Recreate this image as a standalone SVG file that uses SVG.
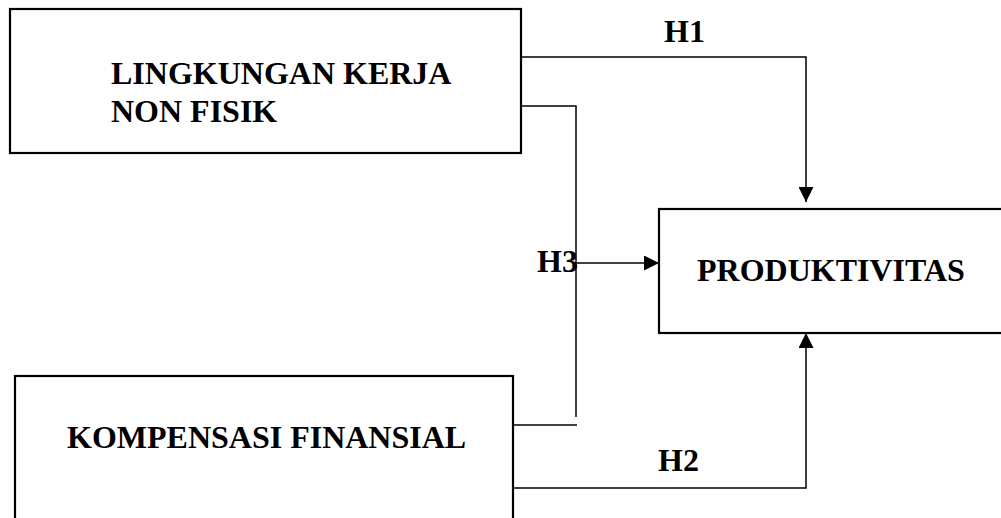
<svg xmlns="http://www.w3.org/2000/svg" width="1001" height="518" viewBox="0 0 1001 518">
<style>
.box{fill:#fff;stroke:#000;stroke-width:2.2}
.lbl{font-family:'Liberation Serif','Times New Roman',serif;font-weight:700;font-size:32px;fill:#000}
.con{fill:none;stroke:#000;stroke-width:1.5}
</style>
<defs>
<marker id="arr" viewBox="0 0 15 15" refX="15" refY="7.5" markerWidth="15" markerHeight="15" markerUnits="userSpaceOnUse" orient="auto">
<path d="M0,0 L15,7.5 L0,15 z" fill="#000"/>
</marker>
</defs>
<rect width="1001" height="518" fill="#fff"/>
<g id="node-lingkungan">
<rect class="box" x="10" y="9" width="511" height="144"/>
<text class="lbl" font-family="Liberation Serif, serif" x="111" y="84">LINGKUNGAN KERJA</text>
<text class="lbl" font-family="Liberation Serif, serif" x="111" y="122">NON FISIK</text>
</g>
<g id="node-kompensasi">
<rect class="box" x="15" y="376" width="498" height="160"/>
<text class="lbl" font-family="Liberation Serif, serif" x="67" y="448">KOMPENSASI FINANSIAL</text>
</g>
<g id="node-produktivitas">
<rect class="box" x="659" y="209" width="400" height="124"/>
<text class="lbl" font-family="Liberation Serif, serif" x="697" y="281">PRODUKTIVITAS</text>
</g>
<g id="connectors">
<path class="con" d="M521,57 H806 V202" marker-end="url(#arr)"/>
<path class="con" d="M521,106 H576 V417"/>
<path class="con" d="M513,425 H577"/>
<path class="con" d="M576,263 H659" marker-end="url(#arr)"/>
<path class="con" d="M513,488 H806 V333" marker-end="url(#arr)"/>
<text class="lbl" font-family="Liberation Serif, serif" x="664" y="42">H1</text>
<text class="lbl" font-family="Liberation Serif, serif" x="658" y="471">H2</text>
<text class="lbl" font-family="Liberation Serif, serif" x="537" y="272">H3</text>
</g>
</svg>
